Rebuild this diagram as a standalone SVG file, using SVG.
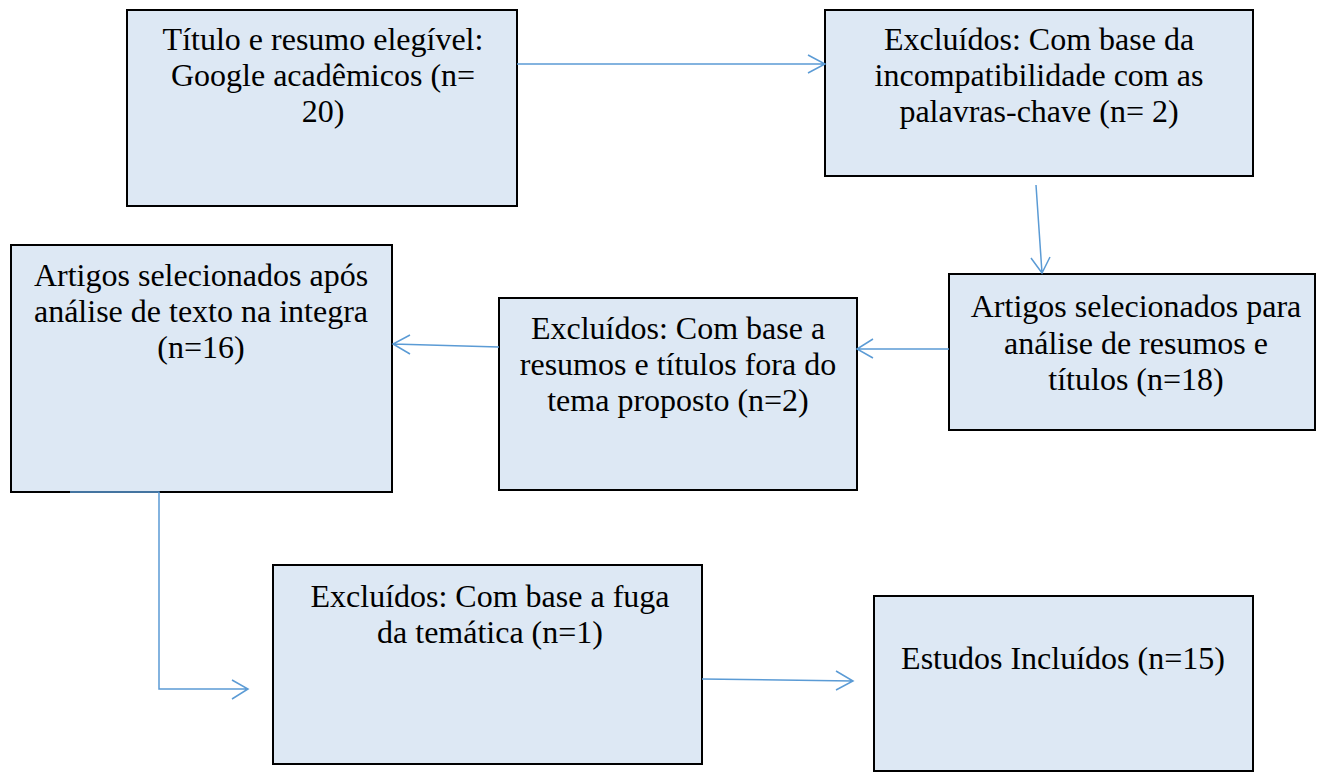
<svg xmlns="http://www.w3.org/2000/svg" width="1327" height="774" viewBox="0 0 1327 774">
<style>
.box{fill:#dde8f4;stroke:#000;stroke-width:2}
.t{font-size:32px;fill:#000;text-anchor:middle}
.c{fill:none;stroke:#5b9bd5;stroke-width:1.5}
</style>
<rect width="1327" height="774" fill="#fff"/>
<g font-family="Liberation Serif, Times New Roman, DejaVu Serif, serif">
<g id="n1"><rect class="box" x="127" y="10" width="390" height="196"/>
<text class="t" x="323" y="50">Título e resumo elegível:</text>
<text class="t" x="323" y="86">Google acadêmicos (n=</text>
<text class="t" x="323" y="122">20)</text></g>
<g id="n2"><rect class="box" x="825" y="10" width="428" height="166"/>
<text class="t" x="1039" y="50">Excluídos: Com base da</text>
<text class="t" x="1039" y="86">incompatibilidade com as</text>
<text class="t" x="1039" y="122">palavras-chave (n= 2)</text></g>
<g id="n3"><rect class="box" x="949" y="274" width="366" height="156"/>
<text class="t" x="1136" y="317">Artigos selecionados para</text>
<text class="t" x="1136" y="354">análise de resumos e</text>
<text class="t" x="1136" y="390">títulos (n=18)</text></g>
<g id="n4"><rect class="box" x="499" y="298" width="358" height="192"/>
<text class="t" x="678" y="339">Excluídos: Com base a</text>
<text class="t" x="678" y="375">resumos e títulos fora do</text>
<text class="t" x="678" y="411">tema proposto (n=2)</text></g>
<g id="n5"><rect class="box" x="11" y="245" width="381" height="247"/>
<text class="t" x="201" y="286">Artigos selecionados após</text>
<text class="t" x="201" y="322">análise de texto na integra</text>
<text class="t" x="201" y="358">(n=16)</text></g>
<g id="n6"><rect class="box" x="273" y="565" width="429" height="199"/>
<text class="t" x="490" y="607">Excluídos: Com base a fuga</text>
<text class="t" x="490" y="643">da temática (n=1)</text></g>
<g id="n7"><rect class="box" x="874" y="596" width="379" height="175"/>
<text class="t" x="1063" y="669">Estudos Incluídos (n=15)</text></g>
</g>
<g id="connectors">
<path class="c" d="M517,64 H825 M808,55 L825,64 L808,73"/>
<path class="c" d="M1036,185 L1042,273 M1031,258 L1042,273 L1050,257"/>
<path class="c" d="M949,349 H857 M873,339 L857,349 L873,358"/>
<path class="c" d="M499,347 L393,344 M410,335 L393,344 L410,354"/>
<path class="c" d="M70,492 H159 V689 H248 M232,680 L248,689 L232,699"/>
<path class="c" d="M702,679 L853,681 M836,671 L853,681 L836,690"/>
</g>
</svg>
